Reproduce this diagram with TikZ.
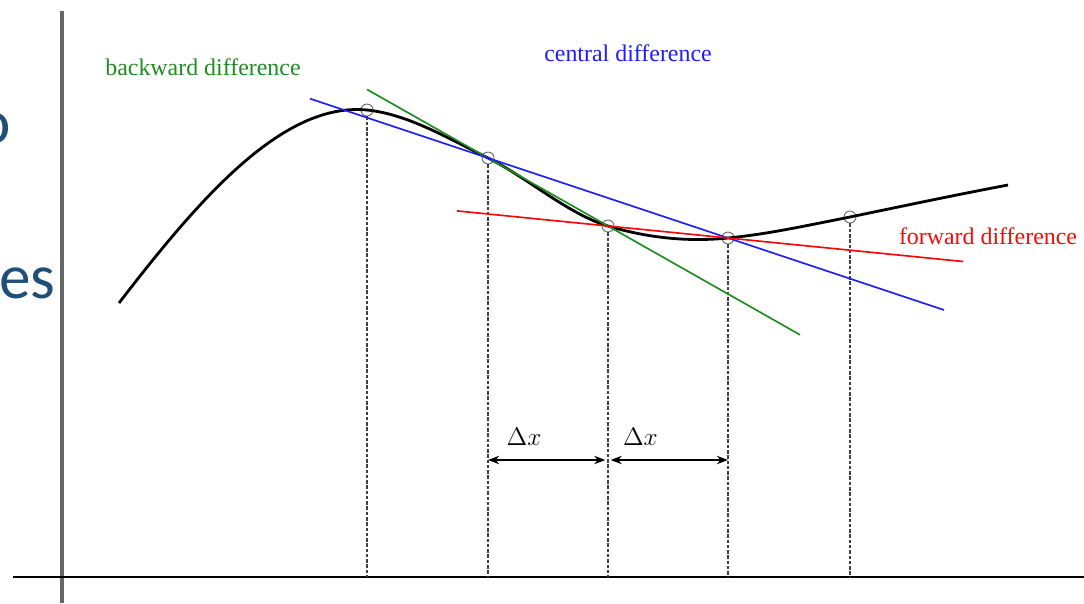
\documentclass[tikz,border=0pt]{standalone}
\usepackage{fontspec}
\setmainfont{Liberation Serif}
\newfontfamily\slidefont{Carlito}
\usetikzlibrary{positioning,arrows.meta,calc}

\definecolor{bwgreen}{RGB}{30,140,30}
\definecolor{cdblue}{RGB}{30,30,245}
\definecolor{fwred}{RGB}{245,10,10}
\definecolor{slideblue}{RGB}{31,78,121}

\begin{document}
\begin{tikzpicture}[
  x=0.02cm, y=-0.02cm,
  curve/.style={line width=1.6pt, black},
  tangent/.style={line width=0.95pt},
  guide/.style={dash pattern=on 2pt off 1pt, line width=0.6pt, black!75},
  sample/.style={circle, draw=black!60, line width=0.5pt,
                 minimum size=0.24cm, inner sep=0pt},
  caption/.style={font=\fontsize{13.6}{16}\selectfont, inner sep=0pt},
  slide/.style={font=\slidefont\fontsize{36}{40}\selectfont,
                text=slideblue, inner sep=0pt},
  step label/.style={font=\fontsize{14}{16}\selectfont, inner sep=0pt},
  >=Stealth
]
  \useasboundingbox (0,0) rectangle (1084,603);

  % Slide text cut off at the left
  \begin{scope}
    \clip (0,0) rectangle (1084,603);
    \node[slide, anchor=base east] (sl1) at (11,143) {o};
    \node[slide, anchor=base east] (sl2) at (56,298) {ces};
  \end{scope}

  % Axes
  \coordinate (yb) at (62,603);
  \coordinate (yt) at (62,11);
  \coordinate (xl) at (13,577);
  \coordinate (xr) at (1084,577);
  \draw[line width=1.8pt, black!60] (yb) -- (yt);
  \draw[line width=0.85pt] (xl) -- (xr);

  % Sample points
  \node[sample] (p0) at (367,110) {};
  \node[sample] (p1) at (488,158) {};
  \node[sample] (p2) at (608,226) {};
  \node[sample] (p3) at (728,238) {};
  \node[sample] (p4) at (850,217) {};
  \coordinate (fa) at (119,303);
  \coordinate (fe) at (1008,185);

  % Function
  \draw[curve] (fa) .. controls (202,195) and (284,102) .. (p0.center)
    .. controls (407,114) and (448,138) .. (p1.center)
    .. controls (528,178) and (568,214) .. (p2.center)
    .. controls (648,238) and (688,242) .. (p3.center)
    .. controls (769,234) and (809,225) .. (p4.center)
    .. controls (903,206) and (955,195) .. (fe);

  % Guides down to the axis
  \foreach \p in {p0,p1,p2,p3,p4}
    \draw[guide] (\p.south) -- (\p |- xl);

  % Difference lines
  \draw[tangent, bwgreen] ($(p1)!-1.008!(p2)$) -- ($(p1)!2.6!(p2)$);
  \draw[tangent, cdblue] ($(p1)!-0.742!(p3)$) -- ($(p1)!1.9!(p3)$);
  \draw[tangent, fwred] ($(p2)!-1.258!(p3)$) -- ($(p2)!2.96!(p3)$);

  % Labels
  \node[caption, text=bwgreen] (bw) at (203,67) {backward difference};
  \node[caption, text=cdblue] (cd) at (628,53) {central difference};
  \node[caption, text=fwred] (fw) at (988,236) {forward difference};

  % Step width
  \coordinate (d) at (0,460);
  \draw[<->, line width=0.75pt, shorten >=1.5pt] (p1 |- d) -- (p2 |- d)
    node[pos=0.3, above=8pt, step label] (dx1) {$\Delta x$};
  \draw[<->, line width=0.75pt, shorten <=1.5pt] (p2 |- d) -- (p3 |- d)
    node[pos=0.27, above=8pt, step label] (dx2) {$\Delta x$};
\end{tikzpicture}
\end{document}
